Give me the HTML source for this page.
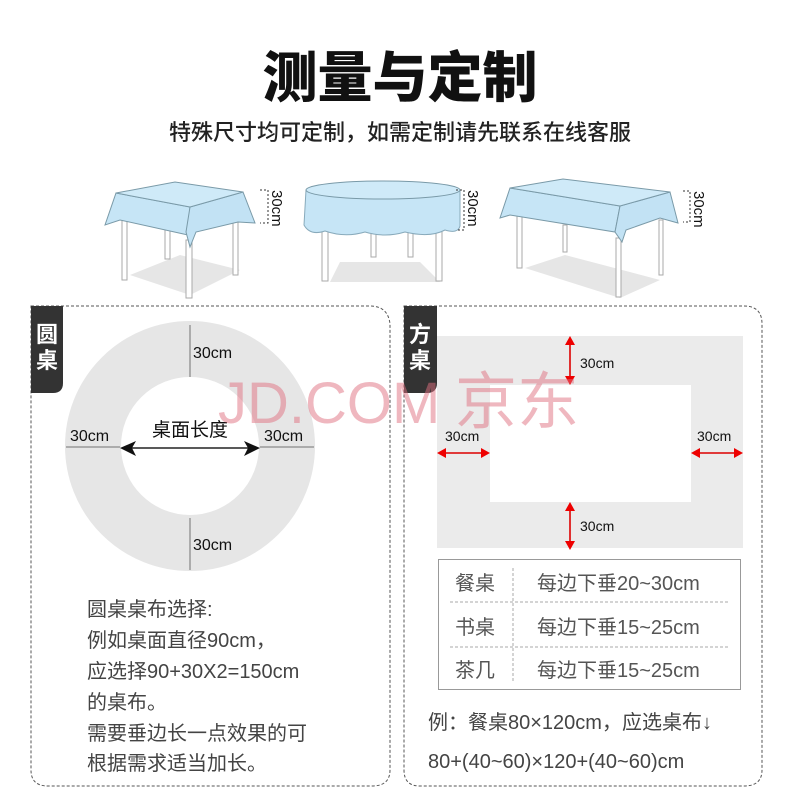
<!DOCTYPE html>
<html><head><meta charset="utf-8"><style>
html,body{margin:0;padding:0;background:#fff;width:800px;height:800px;overflow:hidden}
svg{display:block}
text{font-family:"Liberation Sans","Noto Sans CJK SC",sans-serif}
.cj{font-family:"Noto Sans CJK SC","Liberation Sans",sans-serif}
</style></head><body>
<svg width="800" height="800" viewBox="0 0 800 800" xmlns="http://www.w3.org/2000/svg">
<!-- title -->
<text x="400" y="97" text-anchor="middle" class="cj" font-size="55" font-weight="900" fill="#111">测量与定制</text>
<text x="400" y="140" text-anchor="middle" class="cj" font-size="22" font-weight="500" fill="#222">特殊尺寸均可定制，如需定制请先联系在线客服</text>

<!-- table 1 -->
<polygon points="130,275 180,255 240,270 190,295" fill="#e6e6e6"/>
<g stroke="#aaa" fill="#fff" stroke-width="1">
<rect x="122" y="220" width="5" height="60"/><rect x="165" y="225" width="5" height="34"/><rect x="186" y="240" width="6" height="58"/><rect x="233" y="220" width="5" height="55"/>
</g>
<g stroke="#7a9aa8" stroke-width="1">
<polygon points="116,193 190,207 188,235 120,220 105,225" fill="#c6e5f6"/>
<polygon points="190,207 243,192 255,223 238,222 196,232 190,247 186,232" fill="#c2e2f4"/>
<polygon points="116,193 175,182 243,192 190,207" fill="#cfeaf8"/>
</g>
<!-- table 2 -->
<polygon points="330,282 340,262 420,262 440,282" fill="#e6e6e6"/>
<g stroke="#aaa" fill="#fff">
<rect x="322" y="225" width="6" height="56"/><rect x="371" y="225" width="5" height="32"/><rect x="408" y="225" width="5" height="32"/><rect x="436" y="225" width="6" height="56"/>
</g>
<path d="M306,190 L304,225 Q310,236 325,231 Q345,238 365,232 Q385,238 405,232 Q430,238 445,230 Q458,234 460,226 L460,190 Z" fill="#c6e5f6" stroke="#8ab"/>
<ellipse cx="383" cy="190" rx="77" ry="9" fill="#cfeaf8" stroke="#7a9aa8"/>
<!-- table 3 -->
<polygon points="525,268 565,255 660,280 620,298" fill="#e6e6e6"/>
<g stroke="#aaa" fill="#fff">
<rect x="517" y="215" width="5" height="53"/><rect x="563" y="225" width="4" height="27"/><rect x="616" y="238" width="5" height="59"/><rect x="659" y="220" width="4" height="55"/>
</g>
<g stroke="#7a9aa8" stroke-width="1">
<polygon points="510,188 620,206 615,232 510,215 500,218" fill="#c6e5f6"/>
<polygon points="620,206 670,192 678,223 660,218 626,230 622,242 615,232" fill="#c2e2f4"/>
<polygon points="510,188 563,179 670,192 620,206" fill="#cfeaf8"/>
</g>
<g font-size="15" fill="#111">
<path d="M260,190 H268 V223 H260" fill="none" stroke="#333" stroke-dasharray="2,2"/>
<text transform="translate(272,190) rotate(90)">30cm</text>
<path d="M456,190 H464 V230 H456" fill="none" stroke="#333" stroke-dasharray="2,2"/>
<text transform="translate(468,190) rotate(90)">30cm</text>
<path d="M683,191 H690 V222 H683" fill="none" stroke="#333" stroke-dasharray="2,2"/>
<text transform="translate(694,191) rotate(90)">30cm</text>
</g>

<!-- panels -->
<path d="M31,306 H370 Q388,306 390,324 V770 Q390,786 372,786 H48 Q31,786 31,770 Z" fill="none" stroke="#555" stroke-dasharray="3,2"/>
<path d="M404,306 H744 Q762,306 762,324 V770 Q762,786 744,786 H420 Q404,786 404,770 Z" fill="none" stroke="#555" stroke-dasharray="3,2"/>
<path d="M31,306 H63 V383 Q63,393 53,393 H31 Z" fill="#333"/>
<path d="M404,306 H437 V383 Q437,393 427,393 H404 Z" fill="#333"/>
<text x="47" y="342" text-anchor="middle" class="cj" font-size="22" font-weight="700" fill="#fff">圆</text>
<text x="47" y="368" text-anchor="middle" class="cj" font-size="22" font-weight="700" fill="#fff">桌</text>
<text x="420" y="342" text-anchor="middle" class="cj" font-size="22" font-weight="700" fill="#fff">方</text>
<text x="420" y="368" text-anchor="middle" class="cj" font-size="22" font-weight="700" fill="#fff">桌</text>

<!-- ring -->
<circle cx="190" cy="446" r="97" fill="none" stroke="#e6e6e6" stroke-width="56"/>
<g stroke="#999" stroke-width="1.5">
<line x1="190" y1="325" x2="190" y2="377"/><line x1="190" y1="518" x2="190" y2="570"/>
<line x1="66" y1="447" x2="120" y2="447"/><line x1="260" y1="447" x2="314" y2="447"/>
</g>
<line x1="126" y1="448" x2="254" y2="448" stroke="#222" stroke-width="1.5"/>
<polygon points="120,448 136,441 132,448 136,456" fill="#111"/>
<polygon points="260,448 244,441 248,448 244,456" fill="#111"/>
<g font-size="16" fill="#111">
<text x="193" y="358">30cm</text><text x="193" y="550">30cm</text>
<text x="70" y="441">30cm</text><text x="264" y="441">30cm</text>
</g>
<text x="190" y="436" text-anchor="middle" class="cj" font-size="19" fill="#111">桌面长度</text>

<!-- rect diagram -->
<rect x="437" y="336" width="306" height="212" fill="#ebebeb"/>
<rect x="490" y="385" width="201" height="117" fill="#fff"/>
<g stroke="#d00" stroke-width="1.6" fill="#e00">
<line x1="570" y1="342" x2="570" y2="380"/>
<line x1="570" y1="508" x2="570" y2="545"/>
<line x1="442" y1="453" x2="485" y2="453"/>
<line x1="696" y1="453" x2="740" y2="453"/>
<polygon points="570,336 565,345 575,345" stroke="none"/><polygon points="570,385 565,376 575,376" stroke="none"/>
<polygon points="570,502 565,511 575,511" stroke="none"/><polygon points="570,550 565,541 575,541" stroke="none"/>
<polygon points="437,453 446,448 446,458" stroke="none"/><polygon points="490,453 481,448 481,458" stroke="none"/>
<polygon points="691,453 700,448 700,458" stroke="none"/><polygon points="743,453 734,448 734,458" stroke="none"/>
</g>
<g font-size="14" fill="#111">
<text x="580" y="368">30cm</text><text x="580" y="531">30cm</text>
<text x="445" y="441">30cm</text><text x="697" y="441">30cm</text>
</g>

<!-- spec table -->
<rect x="438.5" y="559.5" width="302" height="130" fill="#fff" stroke="#999" stroke-width="1"/>
<g stroke="#aaa" stroke-dasharray="3,2"><line x1="513" y1="568" x2="513" y2="682"/><line x1="450" y1="602" x2="730" y2="602"/><line x1="450" y1="647" x2="730" y2="647"/></g>
<g class="cj" font-size="20" fill="#555">
<text x="455" y="590">餐桌</text><text x="455" y="634">书桌</text><text x="455" y="677">茶几</text>
<text x="537" y="590">每边下垂20~30cm</text><text x="537" y="634">每边下垂15~25cm</text><text x="537" y="677">每边下垂15~25cm</text>
</g>

<!-- bottom text -->
<g class="cj" font-size="20" fill="#444">
<text x="87" y="616">圆桌桌布选择:</text>
<text x="87" y="647">例如桌面直径90cm，</text>
<text x="87" y="678">应选择90+30X2=150cm</text>
<text x="87" y="709">的桌布。</text>
<text x="87" y="740">需要垂边长一点效果的可</text>
<text x="87" y="770">根据需求适当加长。</text>
<text x="428" y="729">例：餐桌80×120cm，应选桌布↓</text>
<text x="428" y="768">80+(40~60)×120+(40~60)cm</text>
</g>

<!-- watermark -->
<text x="218" y="423" font-size="58" fill="#e07080" fill-opacity="0.5">JD.COM</text>
<text x="455" y="423" class="cj" font-size="62" fill="#e07080" fill-opacity="0.5">京东</text>
</svg>
</body></html>
